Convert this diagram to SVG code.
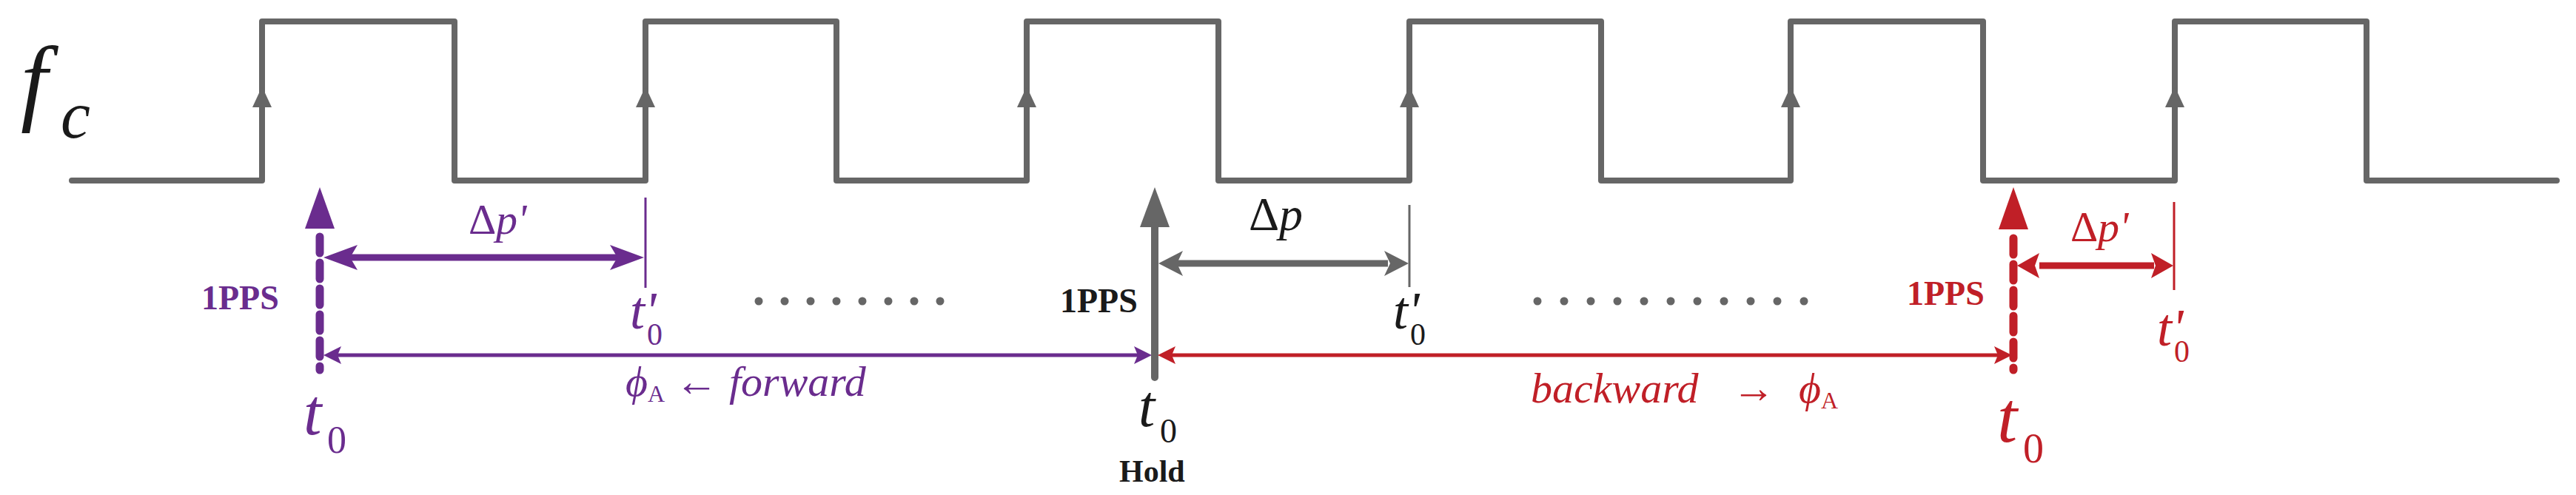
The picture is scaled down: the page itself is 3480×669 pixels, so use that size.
<svg xmlns="http://www.w3.org/2000/svg" width="3480" height="669" viewBox="0 0 3480 669">
<defs>
<path id="rise" d="M0,0 l-13,28 h26z" fill="#666"/>
</defs>
<rect width="3480" height="669" fill="#fff"/>
<g id="signal">
<path fill="none" stroke="#666" stroke-width="8" stroke-linejoin="round" stroke-linecap="round" d="M97,244 H354 V29 H614 V244 H872 V29 H1130 V244 H1387 V29 H1646 V244 H1904 V29 H2163 V244 H2419 V29 H2679 V244 H2938 V29 H3197 V244 H3454"/>
<use href="#rise" x="354" y="117"/><use href="#rise" x="872" y="117"/><use href="#rise" x="1387" y="117"/>
<use href="#rise" x="1904" y="117"/><use href="#rise" x="2419" y="117"/><use href="#rise" x="2938" y="117"/>
<text x="28" y="152" font-size="130" fill="#1a1a1a" font-family="Liberation Serif, serif" font-style="italic">f</text>
<text x="82" y="186" font-size="90" fill="#1a1a1a" font-family="Liberation Serif, serif" font-style="italic">c</text>
</g>
<g id="connectors">
<path d="M432,253 l-20,56 h40z" fill="#6a2c8e"/>
<line x1="432" y1="320" x2="432" y2="500" stroke="#6a2c8e" stroke-width="11" stroke-dasharray="22 13" stroke-linecap="round"/>
<line x1="872" y1="267" x2="872" y2="389" stroke="#6a2c8e" stroke-width="3"/>
<line x1="470" y1="348" x2="840" y2="348" stroke="#6a2c8e" stroke-width="9"/>
<path d="M437,348 l46,-17 l-10,17 l10,17z" fill="#6a2c8e"/>
<path d="M870,348 l-46,-17 l10,17 l-10,17z" fill="#6a2c8e"/>
<line x1="450" y1="480" x2="1540" y2="480" stroke="#6a2c8e" stroke-width="5"/>
<path d="M437,480 l24,-12 l-5,12 l5,12z" fill="#6a2c8e"/>
<path d="M1556,480 l-24,-12 l5,12 l-5,12z" fill="#6a2c8e"/>
<path d="M1560,253 l-20,54 h40z" fill="#666"/>
<line x1="1560" y1="305" x2="1560" y2="510" stroke="#666" stroke-width="10" stroke-linecap="round"/>
<line x1="1904" y1="277" x2="1904" y2="388" stroke="#666" stroke-width="3"/>
<line x1="1590" y1="356" x2="1875" y2="356" stroke="#666" stroke-width="9"/>
<path d="M1565,356 l33,-17 l-8,17 l8,17z" fill="#666"/>
<path d="M1903,356 l-33,-17 l8,17 l-8,17z" fill="#666"/>
<line x1="1580" y1="480" x2="2700" y2="480" stroke="#c01f27" stroke-width="5"/>
<path d="M1564,480 l24,-12 l-5,12 l5,12z" fill="#c01f27"/>
<path d="M2718,480 l-24,-12 l5,12 l-5,12z" fill="#c01f27"/>
<path d="M2720,253 l-20,57 h40z" fill="#c01f27"/>
<line x1="2720" y1="322" x2="2720" y2="500" stroke="#c01f27" stroke-width="11" stroke-dasharray="22 13" stroke-linecap="round"/>
<line x1="2937" y1="273" x2="2937" y2="392" stroke="#c01f27" stroke-width="3"/>
<line x1="2755" y1="359" x2="2910" y2="359" stroke="#c01f27" stroke-width="9"/>
<path d="M2725,359 l30,-17 l-6,17 l6,17z" fill="#c01f27"/>
<path d="M2936,359 l-30,-17 l6,17 l-6,17z" fill="#c01f27"/>
</g>
<g id="dots" fill="#666">
<circle cx="1025" cy="407" r="5.5"/><circle cx="1060" cy="407" r="5.5"/><circle cx="1095" cy="407" r="5.5"/><circle cx="1130" cy="407" r="5.5"/>
<circle cx="1165" cy="407" r="5.5"/><circle cx="1200" cy="407" r="5.5"/><circle cx="1235" cy="407" r="5.5"/><circle cx="1270" cy="407" r="5.5"/>
<circle cx="2077" cy="407" r="5.5"/><circle cx="2113" cy="407" r="5.5"/><circle cx="2149" cy="407" r="5.5"/><circle cx="2185" cy="407" r="5.5"/>
<circle cx="2221" cy="407" r="5.5"/><circle cx="2257" cy="407" r="5.5"/><circle cx="2293" cy="407" r="5.5"/><circle cx="2329" cy="407" r="5.5"/>
<circle cx="2365" cy="407" r="5.5"/><circle cx="2401" cy="407" r="5.5"/><circle cx="2437" cy="407" r="5.5"/>
</g>
<g id="purple-labels" fill="#6a2c8e">
<text font-family="Liberation Serif, serif" font-weight="bold" x="272" y="418" font-size="46">1PPS</text>
<text font-family="Liberation Serif, serif" x="633" y="316" font-size="58">Δ</text>
<text font-family="Liberation Serif, serif" x="670" y="316" font-size="58" font-style="italic">p'</text>
<text font-family="Liberation Serif, serif" x="851" y="444" font-size="72" font-style="italic">t'</text>
<text font-family="Liberation Serif, serif" x="874" y="466" font-size="42">0</text>
<text font-family="Liberation Serif, serif" x="410" y="587" font-size="88" font-style="italic">t</text>
<text font-family="Liberation Serif, serif" x="442" y="612" font-size="52">0</text>
<text font-family="Liberation Serif, serif" x="845" y="535" font-size="58" font-style="italic">ϕ</text>
<text font-family="Liberation Serif, serif" x="875" y="543" font-size="32">A</text>
<text font-family="Liberation Serif, serif" x="912" y="535" font-size="58">←</text>
<text font-family="Liberation Serif, serif" x="985" y="535" font-size="58" font-style="italic">forward</text>
</g>
<g id="black-labels" fill="#1a1a1a">
<text font-family="Liberation Serif, serif" font-weight="bold" x="1432" y="422" font-size="46">1PPS</text>
<text font-family="Liberation Serif, serif" x="1687" y="311" font-size="64">Δ</text>
<text font-family="Liberation Serif, serif" x="1728" y="311" font-size="64" font-style="italic">p</text>
<text font-family="Liberation Serif, serif" x="1882" y="444" font-size="72" font-style="italic">t'</text>
<text font-family="Liberation Serif, serif" x="1905" y="466" font-size="42">0</text>
<text font-family="Liberation Serif, serif" x="1538" y="576" font-size="80" font-style="italic">t</text>
<text font-family="Liberation Serif, serif" x="1567" y="598" font-size="46">0</text>
<text font-family="Liberation Serif, serif" font-weight="bold" x="1512" y="651" font-size="42">Hold</text>
</g>
<g id="red-labels" fill="#c01f27">
<text font-family="Liberation Serif, serif" font-weight="bold" x="2576" y="412" font-size="46">1PPS</text>
<text font-family="Liberation Serif, serif" x="2797" y="326" font-size="58">Δ</text>
<text font-family="Liberation Serif, serif" x="2834" y="326" font-size="58" font-style="italic">p'</text>
<text font-family="Liberation Serif, serif" x="2914" y="467" font-size="72" font-style="italic">t'</text>
<text font-family="Liberation Serif, serif" x="2937" y="489" font-size="42">0</text>
<text font-family="Liberation Serif, serif" x="2698" y="597" font-size="98" font-style="italic">t</text>
<text font-family="Liberation Serif, serif" x="2733" y="625" font-size="56">0</text>
<text font-family="Liberation Serif, serif" x="2068" y="544" font-size="58" font-style="italic">backward</text>
<text font-family="Liberation Serif, serif" x="2340" y="544" font-size="58">→</text>
<text font-family="Liberation Serif, serif" x="2430" y="544" font-size="58" font-style="italic">ϕ</text>
<text font-family="Liberation Serif, serif" x="2460" y="552" font-size="32">A</text>
</g>
</svg>
